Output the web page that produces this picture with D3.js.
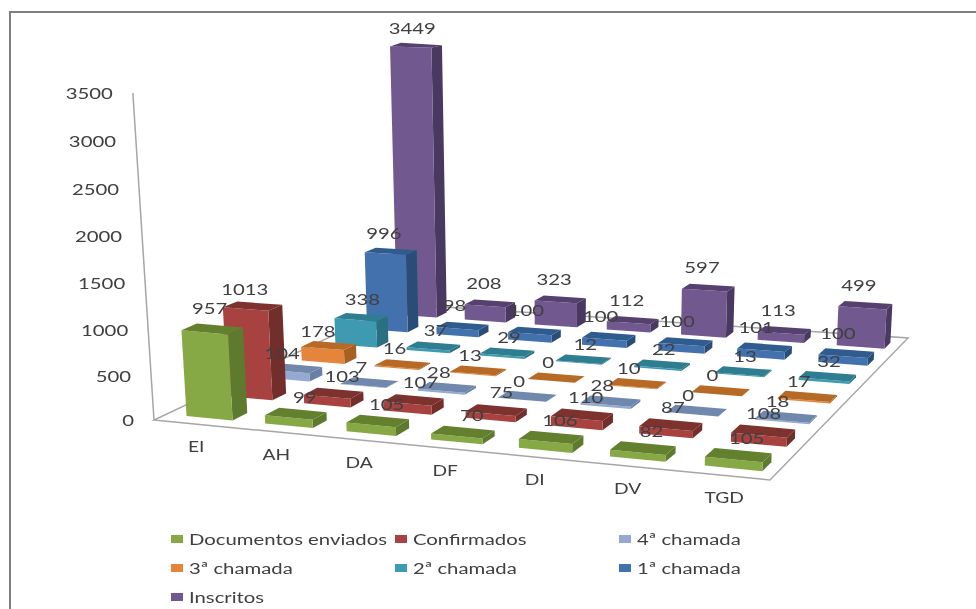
<!DOCTYPE html>
<html>
<head>
<meta charset="utf-8">
<script src="https://d3js.org/d3.v7.min.js"></script>
<style>
  html, body { margin: 0; padding: 0; background: #fff; }
  text { font-family: Lato, sans-serif; fill: #404040; }
</style>
</head>
<body>
<svg id="visualization" width="976" height="609"></svg>
<script>
const categories = ["EI", "AH", "DA", "DF", "DI", "DV", "TGD"];
const seriesNames = ["Documentos enviados", "Confirmados", "4ª chamada", "3ª chamada", "2ª chamada", "1ª chamada", "Inscritos"];
const documentos = [957, 99, 105, 70, 106, 82, 105];
const confirmados = [1013, 103, 107, 75, 110, 87, 108];
const chamada4 = [104, 7, 28, 0, 28, 0, 18];
const chamada3 = [178, 16, 13, 0, 10, 0, 17];
const chamada2 = [338, 37, 29, 12, 22, 13, 32];
const chamada1 = [996, 98, 100, 100, 100, 101, 100];
const inscritos = [3449, 208, 323, 112, 597, 113, 499];
const seriesValues = [documentos, confirmados, chamada4, chamada3, chamada2, chamada1, inscritos];
const axisTicks = [0, 500, 1000, 1500, 2000, 2500, 3000, 3500];

// front, side, top
const palette = [
    ["#86a944", "#5d7a2f", "#64802f"],
    ["#a8423f", "#722d2b", "#7d302e"],
    ["#93a9cf", "#6b7fa5", "#7088ad"],
    ["#e5843a", "#a85f22", "#b76a26"],
    ["#3e9ab1", "#2a6f80", "#2f7d90"],
    ["#4371ad", "#2a4e78", "#2f5b8f"],
    ["#71588f", "#493760", "#553f70"]
];

// floor corners on screen: front left, front right, back right, back left
const floor = [[154, 420], [770, 480], [908, 338], [400, 304]];

// unit square -> floor quad
const homography = (q) => {
    const [[x0, y0], [x1, y1], [x2, y2], [x3, y3]] = q;
    const dx1 = x1 - x2, dx2 = x3 - x2, sx = x0 - x1 + x2 - x3;
    const dy1 = y1 - y2, dy2 = y3 - y2, sy = y0 - y1 + y2 - y3;
    const det = dx1 * dy2 - dx2 * dy1;
    const g = (sx * dy2 - dx2 * sy) / det;
    const h = (dx1 * sy - sx * dy1) / det;
    return (u, v) => {
        const w = g * u + h * v + 1;
        return [
            ((x1 - x0 + g * x1) * u + (x3 - x0 + h * x3) * v + x0) / w,
            ((y1 - y0 + g * y1) * u + (y3 - y0 + h * y3) * v + y0) / w
        ];
    };
};
const toFloor = homography(floor);

const uScale = d3.scaleLinear().domain([0, categories.length]).range([0, 1]);
const vScale = d3.scaleLinear().domain([0, seriesNames.length]).range([0, 1]);
// px per unit of value shrinks with depth (depends on the floor y)
const pxPerUnit = d3.scaleLinear().domain([313, 400, 420]).range([0.073, 0.0865, 0.088]).clamp(true);
// the value axis opens up a little towards the top
const valueScale = d3.scalePow().exponent(1.03).domain([0, 3500]).range([0, 3716]);
const vanish = [560, 6700];

// category position, series position, value -> screen
const project = (c, s, value) => {
    const [x, y] = toFloor(uScale(c), vScale(s));
    const lift = valueScale(value) * pxPerUnit(y);
    return [x + (x - vanish[0]) / (vanish[1] - y) * lift, y - lift];
};

const barW = 0.59, barD = 0.36;
const gapW = 0.26, gapD = 0.29;

const svg = d3.select("#visualization");
const defs = svg.append("defs");
defs.append("filter").attr("id", "soft")
    .attr("x", "-2%").attr("y", "-2%").attr("width", "104%").attr("height", "104%")
    .append("feGaussianBlur").attr("stdDeviation", 0.65);

const chartArea = svg.append("g").attr("filter", "url(#soft)");

// stretched text helper, the reference picture is wider than tall
const stretchText = (g, str, x, y, size, sx, anchor) => g.append("text")
    .attr("transform", `translate(${x},${y}) scale(${sx},1)`)
    .attr("text-anchor", anchor)
    .attr("dominant-baseline", "central")
    .attr("font-size", size)
    .text(str);

// frame
chartArea.append("path")
    .attr("d", "M976,12 H10 V609")
    .attr("fill", "none").attr("stroke", "#7f7f7f").attr("stroke-width", 2);

// floor and axis
const axisTop = project(0, 0, 3500);
chartArea.append("path")
    .attr("d", `M${floor[3]} L${floor[2]} L${floor[1]} L${floor[0]} L${floor[3]} M${floor[0]} L${axisTop}`)
    .attr("fill", "none").attr("stroke", "#a6a6a6").attr("stroke-width", 1.5);

// axis labels
axisTicks.forEach(t => {
    const p = project(0, 0, t);
    stretchText(chartArea, t, p[0] - 20, p[1], 16, 1.27, "end");
});

// bars, back row first
const bars = [];
d3.range(seriesNames.length - 1, -1, -1).forEach(s => {
    categories.forEach((cat, c) => {
        bars.push({ c, s, value: seriesValues[s][c] });
    });
});

const poly = (pts) => "M" + pts.map(p => p.join(",")).join("L") + "Z";

const barGroups = chartArea.selectAll("g.bar")
    .data(bars)
    .join("g")
    .attr("class", "bar");

barGroups.each(function(d) {
    const g = d3.select(this);
    const c0 = d.c + gapW, c1 = c0 + barW;
    const s0 = d.s + gapD, s1 = s0 + barD;
    const col = palette[d.s];
    g.append("path").attr("fill", col[1]).attr("d", poly([
        project(c1, s0, 0), project(c1, s1, 0), project(c1, s1, d.value), project(c1, s0, d.value)
    ]));
    g.append("path").attr("fill", col[0]).attr("d", poly([
        project(c0, s0, 0), project(c1, s0, 0), project(c1, s0, d.value), project(c0, s0, d.value)
    ]));
    g.append("path").attr("fill", col[2]).attr("d", poly([
        project(c0, s0, d.value), project(c1, s0, d.value), project(c1, s1, d.value), project(c0, s1, d.value)
    ]));
});

// value labels sit above the bar top, shifted per series; the first category differs
// third number: extra x drift per category
const labelShift = [[10, -16, 0], [11, -17, -1.5], [-7, -15, 0], [-7, -15, 0], [3, -15, 0], [-7, -20, 0], [-5, -20, 0]];
const labelShiftFirst = [[-2, -20, 0], [-7, -17, 0], [-11, -15, 0], [-10, -14, 0], [2, -18, 0], [-6, -18, 0], [-3, -18, 0]];
bars.forEach(d => {
    const p = project(d.c + 0.53, d.s + 0.5, d.value);
    const shift = d.c === 0 ? labelShiftFirst[d.s] : labelShift[d.s];
    stretchText(chartArea, d.value, p[0] + shift[0] + shift[2] * d.c, p[1] + shift[1], 16, 1.27, "middle");
});

// category labels
categories.forEach((cat, c) => {
    const p = project(c + 0.53, 0, 0);
    stretchText(chartArea, cat, p[0] + 1, p[1] + 22, 16, 1.2, "middle");
});

// legend
const legendX = [171, 395, 619];
const legendY = [539, 568, 597];
seriesNames.forEach((name, i) => {
    const x = legendX[i % 3], y = legendY[Math.floor(i / 3)];
    chartArea.append("rect")
        .attr("x", x).attr("y", y - 4).attr("width", 12).attr("height", 8)
        .attr("fill", palette[i][0]);
    stretchText(chartArea, name, x + 18, y, 16, 1.27, "start");
});
</script>
</body>
</html>
